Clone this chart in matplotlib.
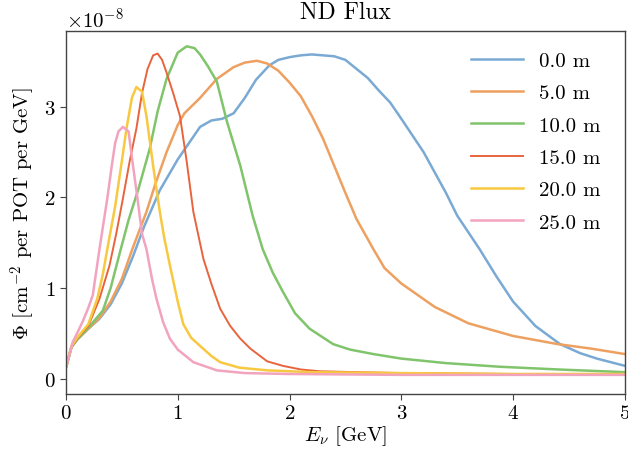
import matplotlib
matplotlib.use("Agg")
import matplotlib.pyplot as plt

plt.rcParams['font.family'] = 'serif'
plt.rcParams['font.serif'] = ['cmr10']
plt.rcParams['mathtext.fontset'] = 'cm'
plt.rcParams['axes.formatter.use_mathtext'] = True
plt.rcParams['axes.unicode_minus'] = True

labels = ["0.0 m", "5.0 m", "10.0 m", "15.0 m", "20.0 m", "25.0 m"]
colors = ["#7aaad4", "#eea060", "#80c46c", "#e8643c", "#f7c840", "#f2a4be"]

e_0m = [0, 0.05, 0.1, 0.2, 0.3, 0.4, 0.5, 0.6, 0.7, 0.84, 1.0, 1.1, 1.2, 1.3, 1.4, 1.5, 1.6, 1.7, 1.82, 1.9, 2.0, 2.1, 2.2, 2.3, 2.4, 2.5, 2.6, 2.7, 2.8, 2.9, 3.0, 3.2, 3.4, 3.5, 3.7, 3.85, 4.0, 4.2, 4.42, 4.6, 4.75, 5.0]
f_0m = [0.12, 0.35, 0.43, 0.55, 0.66, 0.82, 1.05, 1.35, 1.68, 2.08, 2.42, 2.6, 2.78, 2.85, 2.87, 2.93, 3.1, 3.3, 3.46, 3.52, 3.55, 3.57, 3.58, 3.57, 3.56, 3.52, 3.42, 3.32, 3.18, 3.05, 2.87, 2.5, 2.05, 1.8, 1.43, 1.13, 0.85, 0.58, 0.38, 0.28, 0.22, 0.14]

e_5m = [0, 0.05, 0.1, 0.2, 0.3, 0.4, 0.5, 0.6, 0.72, 0.8, 0.9, 1.0, 1.06, 1.2, 1.35, 1.5, 1.6, 1.71, 1.8, 1.9, 2.0, 2.1, 2.2, 2.3, 2.4, 2.5, 2.6, 2.75, 2.85, 3.0, 3.15, 3.3, 3.6, 4.0, 4.4, 4.7, 5.0]
f_5m = [0.12, 0.35, 0.43, 0.55, 0.67, 0.85, 1.1, 1.45, 1.84, 2.15, 2.5, 2.8, 2.93, 3.1, 3.31, 3.44, 3.49, 3.51, 3.48, 3.40, 3.27, 3.12, 2.9, 2.65, 2.35, 2.05, 1.76, 1.43, 1.22, 1.05, 0.92, 0.79, 0.61, 0.47, 0.38, 0.33, 0.27]

e_10m = [0, 0.05, 0.1, 0.2, 0.33, 0.4, 0.48, 0.56, 0.65, 0.75, 0.82, 0.9, 1.0, 1.08, 1.15, 1.2, 1.27, 1.35, 1.44, 1.56, 1.67, 1.76, 1.85, 1.94, 2.05, 2.18, 2.39, 2.54, 2.75, 3.0, 3.4, 3.88, 4.4, 5.0]
f_10m = [0.12, 0.35, 0.43, 0.56, 0.75, 1.0, 1.38, 1.75, 2.1, 2.54, 2.95, 3.31, 3.6, 3.67, 3.65, 3.58, 3.45, 3.28, 2.84, 2.35, 1.80, 1.43, 1.17, 0.96, 0.72, 0.55, 0.38, 0.32, 0.27, 0.22, 0.17, 0.13, 0.10, 0.07]

e_15m = [0, 0.05, 0.1, 0.2, 0.3, 0.39, 0.45, 0.51, 0.57, 0.63, 0.68, 0.73, 0.78, 0.82, 0.86, 0.9, 0.96, 1.02, 1.08, 1.14, 1.23, 1.3, 1.38, 1.47, 1.56, 1.65, 1.8, 1.94, 2.1, 2.27, 2.6, 3.0, 4.0, 5.0]
f_15m = [0.12, 0.35, 0.44, 0.58, 0.88, 1.25, 1.6, 1.99, 2.4, 2.76, 3.15, 3.42, 3.57, 3.59, 3.52, 3.38, 3.15, 2.9, 2.4, 1.84, 1.32, 1.05, 0.77, 0.58, 0.44, 0.33, 0.19, 0.14, 0.10, 0.08, 0.07, 0.06, 0.05, 0.05]

e_20m = [0, 0.05, 0.1, 0.2, 0.28, 0.33, 0.37, 0.44, 0.5, 0.54, 0.59, 0.63, 0.68, 0.72, 0.78, 0.84, 0.88, 0.93, 1.0, 1.05, 1.12, 1.2, 1.3, 1.38, 1.55, 1.8, 2.2, 3.0, 4.0, 5.0]
f_20m = [0.12, 0.36, 0.45, 0.6, 0.88, 1.15, 1.43, 1.9, 2.4, 2.75, 3.1, 3.22, 3.17, 2.9, 2.35, 1.84, 1.55, 1.25, 0.85, 0.6, 0.45, 0.36, 0.25, 0.18, 0.12, 0.09, 0.07, 0.06, 0.05, 0.05]

e_25m = [0, 0.06, 0.1, 0.15, 0.2, 0.24, 0.3, 0.34, 0.37, 0.41, 0.44, 0.47, 0.51, 0.56, 0.60, 0.64, 0.68, 0.72, 0.77, 0.81, 0.87, 0.93, 1.0, 1.14, 1.35, 1.6, 2.0, 3.0, 4.0, 5.0]
f_25m = [0.12, 0.4, 0.5, 0.63, 0.78, 0.92, 1.43, 1.75, 1.99, 2.35, 2.6, 2.73, 2.78, 2.73, 2.35, 1.99, 1.6, 1.43, 1.1, 0.88, 0.62, 0.44, 0.32, 0.18, 0.09, 0.06, 0.05, 0.04, 0.04, 0.04]

energies = [e_0m, e_5m, e_10m, e_15m, e_20m, e_25m]
fluxes = [f_0m, f_5m, f_10m, f_15m, f_20m, f_25m]
scale = 1e-8

fig = plt.figure(figsize=(6.28, 4.56), dpi=100)
ax = fig.add_axes([0.105, 0.134, 0.890, 0.796])

for e, f, lab, c in zip(energies, fluxes, labels, colors):
    lw = 1.4 if lab == "15.0 m" else 1.8
    ax.plot(e, [v * scale for v in f], color=c, lw=lw, label=lab)

ax.set_xlim(0, 5)
ax.set_ylim(-0.17e-8, 3.84e-8)
ax.set_xticks([0, 1, 2, 3, 4, 5])
ax.set_yticks([0, 1e-8, 2e-8, 3e-8])
ax.tick_params(labelsize=15, direction='out', length=4, color='#444444')
ax.yaxis.get_offset_text().set_fontsize(15)
for s in ax.spines.values():
    s.set_color('#444444')
    s.set_linewidth(1.0)

ax.set_title("ND Flux", fontsize=17, pad=9)
ax.set_xlabel(r"$E_\nu$ [GeV]", fontsize=15, labelpad=1)
ax.set_ylabel(r"$\Phi$ [cm$^{-2}$ per POT per GeV]", fontsize=15, labelpad=5)

leg = ax.legend(loc='upper right', frameon=False, fontsize=15, handlelength=2.5,
                labelspacing=0.66, handletextpad=0.75, bbox_to_anchor=(0.99, 0.995))

fig.savefig("out.png", dpi=100)
